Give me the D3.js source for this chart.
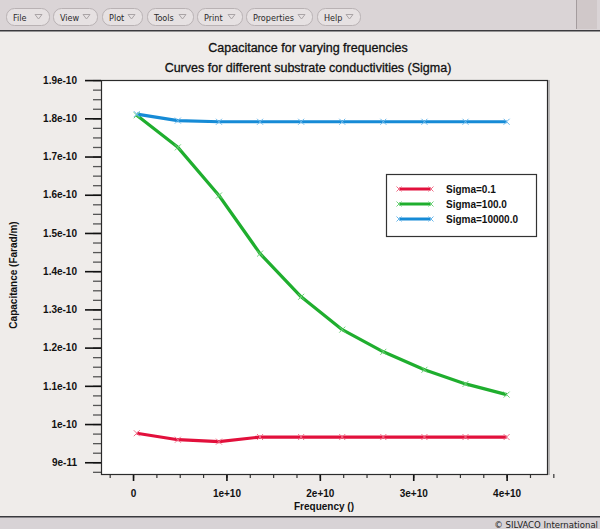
<!DOCTYPE html>
<html>
<head>
<meta charset="utf-8">
<script src="https://cdn.jsdelivr.net/npm/d3@7"></script>
<style>
  html, body { margin: 0; padding: 0; background: #efecea; }
  svg { display: block; }
  .tick text { font-family: "Liberation Sans", Arial, sans-serif; font-weight: bold; font-size: 10px; fill: #111; }
</style>
</head>
<body>
<div id="chart"></div>
<script>
// data
const freq = [0.4e9, 4.8e9, 9.2e9, 13.6e9, 18e9, 22.4e9, 26.8e9, 31.2e9, 35.6e9, 40e9];
const sigma01 = [9.76e-11, 9.59e-11, 9.54e-11, 9.66e-11, 9.66e-11, 9.66e-11, 9.66e-11, 9.66e-11, 9.66e-11, 9.66e-11];
const sigma100 = [1.808e-10, 1.724e-10, 1.598e-10, 1.446e-10, 1.333e-10, 1.247e-10, 1.189e-10, 1.142e-10, 1.105e-10, 1.077e-10];
const sigma10000 = [1.811e-10, 1.794e-10, 1.791e-10, 1.791e-10, 1.791e-10, 1.791e-10, 1.791e-10, 1.791e-10, 1.791e-10, 1.791e-10];
const seriesNames = ['Sigma=0.1', 'Sigma=100.0', 'Sigma=10000.0'];
const xTicks = [0, 1e10, 2e10, 3e10, 4e10];
const xTickLabels = ['0', '1e+10', '2e+10', '3e+10', '4e+10'];
const yTicks = [9e-11, 1e-10, 1.1e-10, 1.2e-10, 1.3e-10, 1.4e-10, 1.5e-10, 1.6e-10, 1.7e-10, 1.8e-10, 1.9e-10];
const yTickLabels = ['9e-11', '1e-10', '1.1e-10', '1.2e-10', '1.3e-10', '1.4e-10', '1.5e-10', '1.6e-10', '1.7e-10', '1.8e-10', '1.9e-10'];
const menuItems = ['File', 'View', 'Plot', 'Tools', 'Print', 'Properties', 'Help'];

const width = 600;
const height = 529;
const font = '"Liberation Sans", Arial, sans-serif';
const colors = ['#e2103c', '#1fae2e', '#168bd6'];
const markColors = ['#f0708a', '#6fd27a', '#6bb8ea'];

const svg = d3.select('#chart').append('svg')
  .attr('width', width)
  .attr('height', height);

/* window chrome */
svg.append('rect').attr('x', 0).attr('y', 0).attr('width', width).attr('height', 30).attr('fill', '#dad4d6');
svg.append('rect').attr('x', 577).attr('y', 0).attr('width', 20).attr('height', 29).attr('fill', '#d0c8c9');
svg.append('line').attr('x1', 576.5).attr('x2', 576.5).attr('y1', 0).attr('y2', 29).attr('stroke', '#a49c9e');
svg.append('rect').attr('x', 0).attr('y', 30).attr('width', width).attr('height', 1.5).attr('fill', '#3a3a3e');

// menu buttons
const btnX = [6, 53, 102, 147, 197, 246, 317];
const btnW = [43, 44, 40, 46, 45, 66, 43];
const menu = svg.append('g').attr('class', 'menu');
menuItems.forEach((m, i) => {
  const g = menu.append('g').attr('transform', `translate(${btnX[i]}, 8)`);
  g.append('rect')
    .attr('x', 0.5).attr('y', 0.5)
    .attr('width', btnW[i]).attr('height', 17)
    .attr('rx', 8).attr('ry', 8)
    .attr('fill', '#e6e1e2')
    .attr('stroke', '#b9b2b4');
  g.append('text')
    .attr('x', 7).attr('y', 12.5)
    .attr('font-family', '"DejaVu Sans Condensed", "DejaVu Sans", sans-serif')
    .attr('font-stretch', 'condensed')
    .attr('font-size', 9)
    .attr('fill', '#2a2a2a')
    .text(m);
  g.append('path')
    .attr('d', `M${btnW[i] - 14},6.5 L${btnW[i] - 7},6.5 L${btnW[i] - 10.5},11 Z`)
    .attr('fill', 'none')
    .attr('stroke', '#aaa4a6');
});

// status bar
svg.append('rect').attr('x', 0).attr('y', 517).attr('width', width).attr('height', 12).attr('fill', '#d8d3d6');
svg.append('rect').attr('x', 0).attr('y', 516).attr('width', width).attr('height', 1.5).attr('fill', '#3a3a3e');
svg.append('text')
  .attr('x', 598).attr('y', 528)
  .attr('text-anchor', 'end')
  .attr('font-family', '"DejaVu Sans Condensed", "DejaVu Sans", sans-serif')
  .attr('font-stretch', 'condensed')
  .attr('font-size', 9.5)
  .attr('fill', '#222')
  .text('\u00a9 SILVACO International');

/* Titles */
svg.append('text')
  .attr('x', 308).attr('y', 52)
  .attr('text-anchor', 'middle')
  .attr('font-family', font).attr('font-size', 12.5).attr('fill', '#111')
  .attr('stroke', '#111').attr('stroke-width', 0.3)
  .text('Capacitance for varying frequencies');
svg.append('text')
  .attr('x', 308).attr('y', 72)
  .attr('text-anchor', 'middle')
  .attr('font-family', font).attr('font-size', 12.5).attr('fill', '#111')
  .attr('stroke', '#111').attr('stroke-width', 0.3)
  .text('Curves for different substrate conductivities (Sigma)');

/* Scale */
const plot = { left: 101, right: 548, top: 80, bottom: 474 };
const xScale = d3.scaleLinear()
  .domain([-3.43e9, 4.443e10])
  .range([plot.left, plot.right]);
const yScale = d3.scaleLinear()
  .domain([8.693e-11, 1.90026e-10])
  .range([plot.bottom, plot.top]);

// plot background
svg.append('rect')
  .attr('x', plot.left).attr('y', plot.top)
  .attr('width', plot.right - plot.left).attr('height', plot.bottom - plot.top)
  .attr('fill', '#ffffff');

/* Axis */
const xMinor = d3.range(-2.5e9, 4.6e10, 2.5e9);
const yMinor = d3.range(8.75e-11, 1.901e-10, 2.5e-12);

svg.append('g')
  .attr('transform', `translate(${plot.left}, 0)`)
  .call(d3.axisLeft(yScale).tickValues(yMinor).tickSize(8).tickFormat(''))
  .call(g => g.select('.domain').remove())
  .call(g => g.selectAll('line').attr('stroke', '#555').attr('stroke-width', 1.3));

svg.append('g')
  .attr('transform', `translate(${plot.left}, 0)`)
  .call(d3.axisLeft(yScale).tickValues(yTicks).tickSize(16).tickPadding(8)
    .tickFormat((d, i) => yTickLabels[i]))
  .call(g => g.select('.domain').remove())
  .call(g => g.selectAll('line').attr('stroke', '#111').attr('stroke-width', 1.6))
  .call(g => g.selectAll('text').attr('font-size', 10.5));

svg.append('g')
  .attr('transform', `translate(0, ${plot.bottom})`)
  .call(d3.axisBottom(xScale).tickValues(xMinor).tickSize(4).tickFormat(''))
  .call(g => g.select('.domain').remove())
  .call(g => g.selectAll('line').attr('stroke', '#333').attr('stroke-width', 1.2));

svg.append('g')
  .attr('transform', `translate(0, ${plot.bottom})`)
  .call(d3.axisBottom(xScale).tickValues(xTicks).tickSize(7).tickPadding(9)
    .tickFormat((d, i) => xTickLabels[i]))
  .call(g => g.select('.domain').remove())
  .call(g => g.selectAll('line').attr('stroke', '#111').attr('stroke-width', 1.6));

// frame
svg.append('rect')
  .attr('x', plot.left + 0.5).attr('y', plot.top + 0.5)
  .attr('width', plot.right - plot.left - 1).attr('height', plot.bottom - plot.top)
  .attr('fill', 'none').attr('stroke', '#2b2b2b').attr('stroke-width', 1.2);
svg.append('line')
  .attr('x1', plot.right + 1).attr('x2', plot.right + 1)
  .attr('y1', plot.top).attr('y2', plot.bottom + 1)
  .attr('stroke', '#8c8c8c').attr('stroke-width', 1);

// axis titles
svg.append('text')
  .attr('x', 324).attr('y', 510)
  .attr('text-anchor', 'middle')
  .attr('font-family', font).attr('font-weight', 'bold').attr('font-size', 10).attr('fill', '#111')
  .text('Frequency ()');
svg.append('text')
  .attr('transform', `translate(17, 275) rotate(-90)`)
  .attr('text-anchor', 'middle')
  .attr('font-family', font).attr('font-weight', 'bold').attr('font-size', 10).attr('fill', '#111')
  .text('Capacitance (Farad/m)');

/* Add lines */
const data = [sigma01, sigma100, sigma10000].map((vals, i) => ({
  name: seriesNames[i],
  values: vals.map((v, j) => ({ f: freq[j], c: v }))
}));

const line = d3.line()
  .x(d => xScale(d.f))
  .y(d => yScale(d.c));

const lines = svg.append('g').attr('class', 'lines');
lines.selectAll('.line')
  .data(data).enter()
  .append('path')
  .attr('class', 'line')
  .attr('fill', 'none')
  .attr('stroke', (d, i) => colors[i])
  .attr('stroke-width', 3.2)
  .attr('stroke-linejoin', 'round')
  .attr('d', d => line(d.values));

// x markers
const cross = 3;
lines.selectAll('.marks')
  .data(data).enter()
  .append('g')
  .attr('stroke', (d, i) => markColors[i])
  .attr('stroke-width', 1)
  .selectAll('path')
  .data(d => d.values).enter()
  .append('path')
  .attr('d', d => {
    const x = xScale(d.f), y = yScale(d.c);
    return `M${x - cross},${y - cross}L${x + cross},${y + cross}M${x - cross},${y + cross}L${x + cross},${y - cross}`;
  });

/* legend */
const legend = svg.append('g').attr('transform', 'translate(386, 174)');
legend.append('rect')
  .attr('x', 0.5).attr('y', 0.5)
  .attr('width', 150).attr('height', 62)
  .attr('fill', '#fff').attr('stroke', '#333').attr('stroke-width', 1.2);
seriesNames.forEach((n, i) => {
  const y = 15 + i * 15;
  legend.append('line')
    .attr('x1', 13).attr('x2', 45).attr('y1', y).attr('y2', y)
    .attr('stroke', colors[i]).attr('stroke-width', 3);
  [13, 45].forEach(x => {
    legend.append('path')
      .attr('d', `M${x - 2.5},${y - 2.5}L${x + 2.5},${y + 2.5}M${x - 2.5},${y + 2.5}L${x + 2.5},${y - 2.5}`)
      .attr('stroke', markColors[i]).attr('stroke-width', 1);
  });
  legend.append('text')
    .attr('x', 60).attr('y', y + 3.5)
    .attr('font-family', font).attr('font-weight', 'bold').attr('font-size', 10).attr('fill', '#111')
    .text(n);
});
</script>
</body>
</html>
